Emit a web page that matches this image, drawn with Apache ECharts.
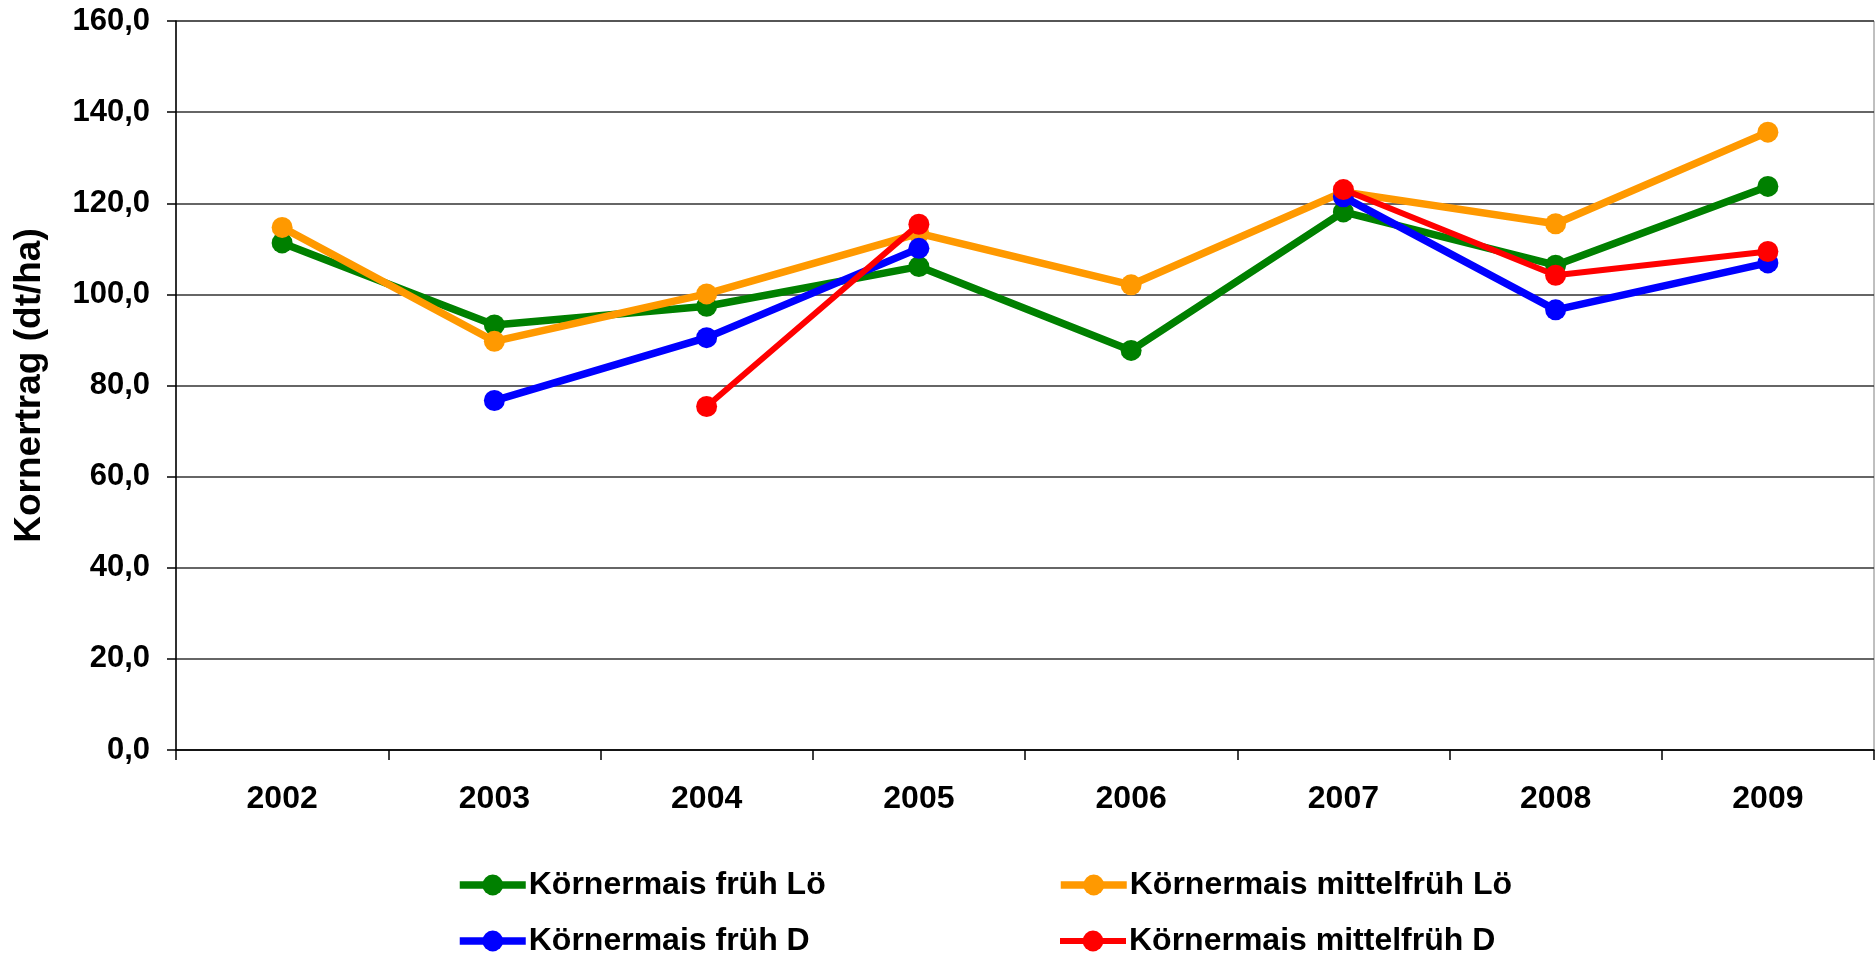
<!DOCTYPE html>
<html>
<head>
<meta charset="utf-8">
<script src="https://cdn.jsdelivr.net/npm/echarts@6/dist/echarts.min.js"></script>
<style>
html,body{margin:0;padding:0;background:#fff;}
#chart{width:1876px;height:961px;}
</style>
</head>
<body>
<div id="chart"></div>
<script>
const years = ['2002','2003','2004','2005','2006','2007','2008','2009'];
const fruehLo = [111.3, 93.3, 97.4, 106.1, 87.7, 118.1, 106.4, 123.7];
const mittelfruehLo = [114.7, 89.7, 100.1, 113.4, 102.1, 122.5, 115.5, 135.6];
const fruehD = [null, 76.7, 90.5, 110.1, null, 121.4, 96.6, 106.9];
const mittelfruehD = [null, null, 75.4, 115.4, null, 123.0, 104.2, 109.4];
const seriesNames = ['Körnermais früh Lö','Körnermais mittelfrüh Lö','Körnermais früh D','Körnermais mittelfrüh D'];
const yTitle = 'Kornertrag (dt/ha)';

const FONT = '"Liberation Sans", Arial, sans-serif';
const colors = ['#008000','#FF9900','#0000FF','#FF0000'];
const datas = [fruehLo, mittelfruehLo, fruehD, mittelfruehD];
const widths = [7.5, 7.5, 7.5, 6];

const chart = echarts.init(document.getElementById('chart'), null, {renderer:'canvas'});

const legendPos = [
  {left: 456, top: 869},
  {left: 1057, top: 869},
  {left: 456, top: 925},
  {left: 1057, top: 925}
];

const option = {
  animation: false,
  backgroundColor: '#ffffff',
  grid: {left: 176, right: 2, top: 21, bottom: 211, show: true, borderColor: '#808080', borderWidth: 1, containLabel: false},
  legend: seriesNames.map((n, i) => ({
    data: [n],
    left: legendPos[i].left,
    top: legendPos[i].top,
    itemWidth: 66,
    itemHeight: 26,
    itemGap: 0,
    padding: 0,
    lineStyle: {width: widths[i]},
    textStyle: {fontFamily: FONT, fontWeight: 'bold', fontSize: 32, color: '#000', padding: [0,0,0,-2]},
    selectedMode: false
  })),
  xAxis: {
    type: 'category',
    data: years,
    boundaryGap: true,
    axisLine: {show: true, lineStyle: {color: '#000', width: 1.5}},
    axisTick: {show: true, length: 10, lineStyle: {color: '#000', width: 1.5}},
    axisLabel: {fontFamily: FONT, fontWeight: 'bold', fontSize: 32, color: '#000', margin: 33},
    splitLine: {show: false}
  },
  yAxis: {
    type: 'value',
    min: 0, max: 160, interval: 20,
    name: yTitle,
    nameLocation: 'middle',
    nameGap: 128,
    nameRotate: 90,
    nameTextStyle: {fontFamily: FONT, fontWeight: 'bold', fontSize: 37, color: '#000'},
    axisLine: {show: true, lineStyle: {color: '#000', width: 1.5}},
    axisTick: {show: true, length: 9, lineStyle: {color: '#000', width: 1.5}},
    axisLabel: {fontFamily: FONT, fontWeight: 'bold', fontSize: 31, color: '#000', margin: 26,
      formatter: v => v.toFixed(1).replace('.', ',')},
    splitLine: {show: true, lineStyle: {color: '#333', width: 1.5}}
  },
  series: seriesNames.map((n, i) => ({
    name: n,
    type: 'line',
    data: datas[i],
    connectNulls: false,
    symbol: 'circle',
    symbolSize: 21,
    showSymbol: true,
    color: colors[i],
    itemStyle: {color: colors[i]},
    lineStyle: {color: colors[i], width: widths[i]},
    z: 2 + i
  }))
};
chart.setOption(option);
</script>
</body>
</html>
